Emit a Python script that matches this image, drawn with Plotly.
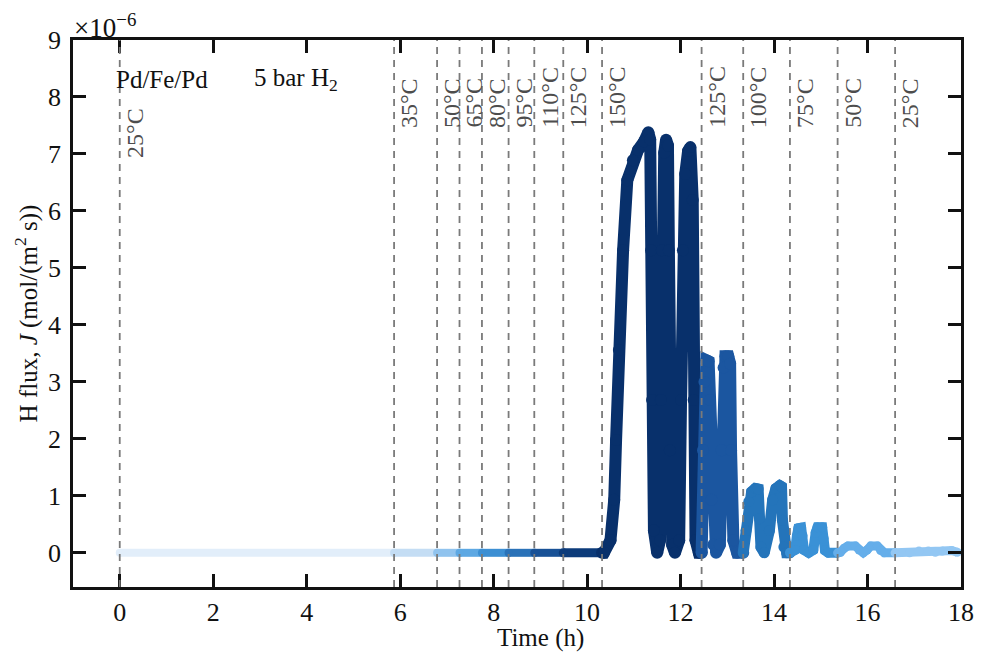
import plotly.graph_objects as go

# ---------------- data ----------------
# temperature step labels and the time (h) at which each step starts
temp_labels = ["25°C", "35°C", "50°C", "65°C", "80°C", "95°C", "110°C", "125°C",
               "150°C", "125°C", "100°C", "75°C", "50°C", "25°C"]
step_start_h = [0.0, 5.87, 6.79, 7.27, 7.75, 8.32, 8.87, 9.49,
                10.32, 12.45, 13.34, 14.34, 15.36, 16.59]

# H flux J in units of 1e-6 mol/(m^2 s); time in h
t_25a = [0.0, 5.87];   J_25a = [0.0, 0.0]
t_35 = [5.87, 6.79];   J_35 = [0.0, 0.0]
t_50a = [6.79, 7.27];  J_50a = [0.0, 0.0]
t_65 = [7.27, 7.75];   J_65 = [0.0, 0.0]
t_80 = [7.75, 8.32];   J_80 = [0.0, 0.0]
t_95 = [8.32, 8.87];   J_95 = [0.0, 0.0]
t_110 = [8.87, 9.49];  J_110 = [0.0, 0.0]
t_125a = [9.49, 10.32]; J_125a = [0.0, 0.0]

t_150 = [10.32, 10.36, 10.50, 10.58, 10.62, 10.68, 10.77, 10.86, 10.98, 11.09, 11.22, 11.31,
         11.35, 11.37, 11.39, 11.43, 11.50,
         11.56, 11.58, 11.60, 11.65, 11.69, 11.73, 11.75, 11.77, 11.82, 11.88,
         11.97, 12.01, 12.05, 12.10, 12.16, 12.21, 12.26, 12.28, 12.32, 12.39, 12.45]
J_150 = [0.0, 0.0, 0.22, 0.93, 1.98, 3.56, 5.31, 6.54, 6.89, 7.07, 7.22, 7.38,
         7.25, 5.31, 2.68, 0.39, 0.0,
         0.22, 2.68, 5.31, 7.02, 7.25, 7.15, 5.31, 1.80, 0.14, 0.0,
         0.22, 2.68, 5.31, 6.65, 7.05, 7.12, 6.19, 2.68, 0.22, 0.0, 0.0]

t_125b = [12.45, 12.48, 12.51, 12.55, 12.60, 12.63, 12.66, 12.70, 12.76,
          12.84, 12.88, 12.92, 12.96, 13.02, 13.06, 13.08, 13.13, 13.21, 13.34]
J_125b = [0.0, 1.80, 3.00, 3.38, 3.36, 2.68, 0.93, 0.14, 0.0,
          0.14, 1.80, 3.25, 3.45, 3.45, 3.32, 1.80, 0.22, 0.0, 0.0]

t_100 = [13.34, 13.40, 13.46, 13.52, 13.60, 13.66, 13.69, 13.72, 13.79,
         13.90, 13.97, 14.04, 14.12, 14.16, 14.18, 14.21, 14.27, 14.34]
J_100 = [0.0, 0.39, 0.90, 1.07, 1.13, 1.12, 0.60, 0.10, 0.0,
         0.39, 0.93, 1.13, 1.18, 1.16, 0.57, 0.10, 0.0, 0.0]

t_75 = [14.34, 14.45, 14.49, 14.52, 14.58, 14.61, 14.64, 14.74,
        14.84, 14.89, 14.93, 15.03, 15.06, 15.09, 15.16, 15.36]
J_75 = [0.0, 0.05, 0.30, 0.43, 0.44, 0.30, 0.05, 0.0,
        0.05, 0.35, 0.45, 0.45, 0.25, 0.04, 0.0, 0.0]

t_50b = [15.36, 15.42, 15.50, 15.58, 15.74, 15.82, 15.91, 15.99, 16.07, 16.21, 16.28, 16.36, 16.59]
J_50b = [0.0, 0.01, 0.08, 0.12, 0.12, 0.05, 0.0, 0.05, 0.12, 0.12, 0.04, 0.0, 0.0]

t_25b = [16.59, 16.90, 17.10, 17.30, 17.45, 17.60, 17.80, 17.92]
J_25b = [0.0, 0.0, 0.03, 0.03, 0.01, 0.03, 0.04, 0.01]

seg_times = [t_25a, t_35, t_50a, t_65, t_80, t_95, t_110, t_125a,
             t_150, t_125b, t_100, t_75, t_50b, t_25b]
seg_flux = [J_25a, J_35, J_50a, J_65, J_80, J_95, J_110, J_125a,
            J_150, J_125b, J_100, J_75, J_50b, J_25b]

y_ticks = [0, 1, 2, 3, 4, 5, 6, 7, 8, 9]
x_ticks = [0, 2, 4, 6, 8, 10, 12, 14, 16, 18]

# ---------------- style ----------------
seg_colors = ["#e2eefa", "#c4ddf4", "#90c3ee", "#5da8e3", "#3c8fd3", "#2a72b8", "#185196",
              "#0c3b7a", "#08306b", "#1b56a0", "#2474ba", "#3a91d6", "#65aeea", "#93c7f3"]
seg_width = [8, 8, 8, 8, 8, 8, 8, 9, 12, 12, 11, 10, 9, 9]

FONT = "Liberation Serif, Times New Roman, serif"
INK = "#111111"
fig = go.Figure()

for t, J, c, w in zip(seg_times, seg_flux, seg_colors, seg_width):
    fig.add_trace(go.Scatter(
        x=t, y=J, mode="lines+markers",
        line=dict(color=c, width=w),
        marker=dict(color=c, size=w, line=dict(width=0)),
        showlegend=False, hoverinfo="skip"))

# dashed temperature-step lines and labels
for i, (ts, lab) in enumerate(zip(step_start_h, temp_labels)):
    fig.add_shape(type="line", xref="x", yref="paper", x0=ts, x1=ts, y0=0, y1=1,
                  line=dict(color="#7a7a7a", width=1.8, dash="7px,6px"), layer="above")
    fig.add_annotation(x=ts, y=(6.89 if i == 0 else 7.42), xref="x", yref="y",
                       text=lab, showarrow=False, textangle=-90,
                       xanchor="left", yanchor="bottom", xshift=0,
                       font=dict(family=FONT, size=24, color="#4d4d4d"))

fig.add_annotation(x=-0.12, y=8.3, xref="x", yref="y", text="Pd/Fe/Pd", showarrow=False,
                   xanchor="left", yanchor="middle", font=dict(family=FONT, size=25, color=INK))
fig.add_annotation(x=2.83, y=8.3, xref="x", yref="y", text="5 bar H<sub>2</sub>", showarrow=False,
                   xanchor="left", yanchor="middle", font=dict(family=FONT, size=25, color=INK))
fig.add_annotation(x=0, y=1, xref="paper", yref="paper", text="×10<sup>−6</sup>", showarrow=False,
                   xanchor="left", yanchor="bottom", yshift=-5, xshift=-1,
                   font=dict(family=FONT, size=27, color=INK))
# x-axis title (centred on the 0-18 h span)
fig.add_annotation(x=9, y=-0.094, xref="x", yref="paper", text="Time (h)", showarrow=False,
                   xanchor="center", yanchor="middle", font=dict(family=FONT, size=25, color=INK))

axis_common = dict(showgrid=False, zeroline=False, showline=True, linecolor=INK, linewidth=2.5,
                   ticks="inside", ticklen=13, tickwidth=2.5, tickcolor=INK, mirror="ticks",
                   tickfont=dict(family=FONT, size=26, color=INK))

fig.update_layout(
    width=987, height=658,
    margin=dict(l=73, r=26, t=40, b=71),
    paper_bgcolor="white", plot_bgcolor="white",
    font=dict(family=FONT, size=24, color=INK),
    xaxis=dict(range=[-1, 18], tickvals=x_ticks, ticktext=[str(v) for v in x_ticks],
               ticklabelstandoff=0, **axis_common),
    yaxis=dict(range=[-0.6, 9], tickvals=y_ticks, ticktext=[str(v) for v in y_ticks],
               title=dict(text="H flux, <i>J</i> (mol/(m<sup>2</sup> s))",
                          font=dict(family=FONT, size=25, color=INK), standoff=4),
               ticklabelstandoff=4, **axis_common),
)

fig.write_html("out.html")
